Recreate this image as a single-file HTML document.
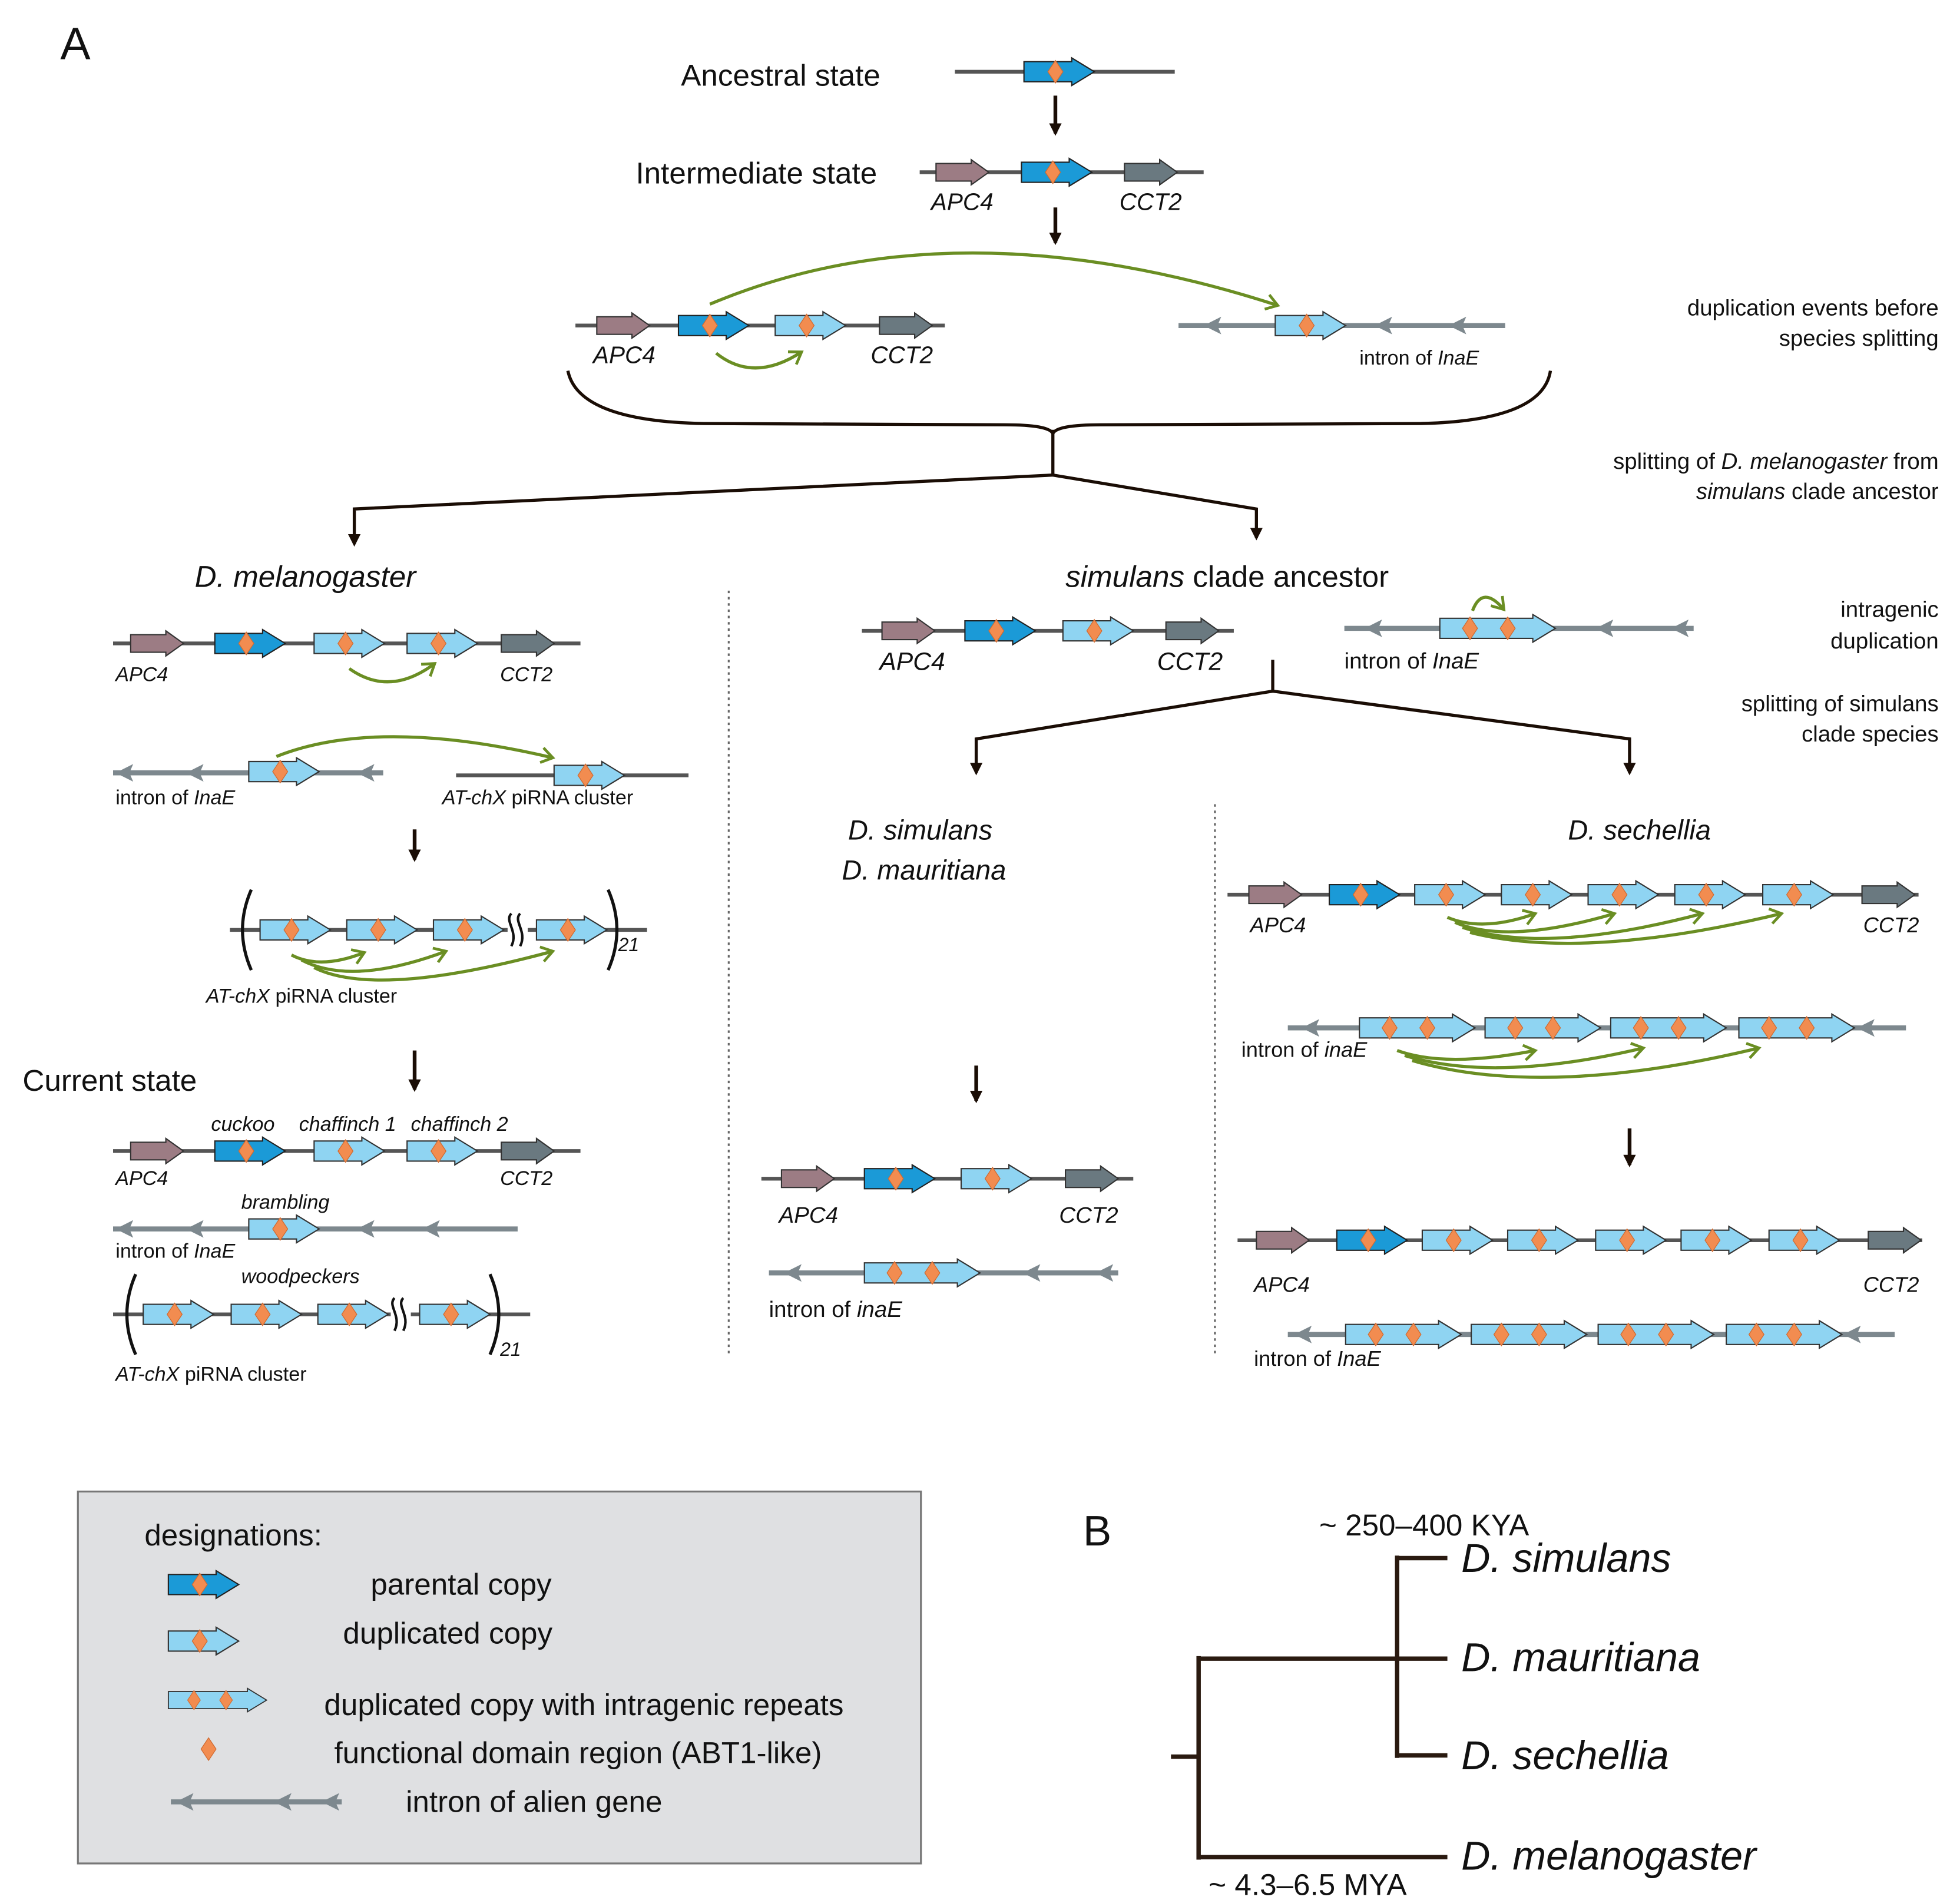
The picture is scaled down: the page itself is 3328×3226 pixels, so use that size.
<!DOCTYPE html>
<html><head><meta charset="utf-8"><style>
html,body{margin:0;padding:0;background:#fff}
svg{display:block}
text{font-family:"Liberation Sans",sans-serif;fill:#111}
.i{font-style:italic}
</style></head><body>
<svg width="3328" height="3226" viewBox="0 0 1560 1512" xmlns="http://www.w3.org/2000/svg">
<defs>
<g id="dm"><polygon points="0,-9 6,0 0,9 -6,0" fill="#f28c50" stroke="#d06a30" stroke-width="0.6"/></g>
<g id="par"><polygon points="0,-8 38,-8 38,-11 56,0 38,11 38,8 0,8" fill="#1b9ad7" stroke="#222" stroke-width="1"/><use href="#dm" x="25" y="0"/></g>
<g id="dup"><polygon points="0,-8 38,-8 38,-11 56,0 38,11 38,8 0,8" fill="#8fd4f2" stroke="#333" stroke-width="1"/><use href="#dm" x="25" y="0"/></g>
<g id="dup2"><polygon points="0,-8 74,-8 74,-11 92,0 74,11 74,8 0,8" fill="#8fd4f2" stroke="#333" stroke-width="1"/><use href="#dm" x="24" y="0"/><use href="#dm" x="54" y="0"/></g>
<g id="apc"><polygon points="0,-7 28,-7 28,-10 42,0 28,10 28,7 0,7" fill="#9c7c84" stroke="#333" stroke-width="1"/></g>
<g id="cct"><polygon points="0,-7 28,-7 28,-10 42,0 28,10 28,7 0,7" fill="#6a7980" stroke="#333" stroke-width="1"/></g>
<g id="ah"><polygon points="0,0 14,-7 11,0 14,7" fill="#7d888e"/></g>
<marker id="ka" markerWidth="10" markerHeight="10" refX="8" refY="5" orient="auto" markerUnits="userSpaceOnUse"><polygon points="0,0 10,5 0,10" fill="#1a0d05"/></marker>
<marker id="ga" markerWidth="14" markerHeight="14" refX="11" refY="7" orient="auto" markerUnits="userSpaceOnUse"><polyline points="2,1 11,7 2,13" fill="none" stroke="#6a8e23" stroke-width="2.2"/></marker>
</defs>

<text x="48" y="47" font-size="36">A</text>

<text x="542" y="68" font-size="24">Ancestral state</text>
<line x1="760" y1="57" x2="935" y2="57" stroke="#555" stroke-width="3"/>
<use href="#par" x="815" y="57"/>
<line x1="840" y1="76" x2="840" y2="106" stroke="#1a0d05" stroke-width="3" marker-end="url(#ka)"/>

<text x="506" y="146" font-size="24">Intermediate state</text>
<line x1="732" y1="137" x2="958" y2="137" stroke="#555" stroke-width="3"/>
<use href="#apc" x="745" y="137"/><use href="#par" x="813" y="137"/><use href="#cct" x="895" y="137"/>
<text x="741" y="167" font-size="19" class="i">APC4</text><text x="891" y="167" font-size="19" class="i">CCT2</text>
<line x1="840" y1="165" x2="840" y2="193" stroke="#1a0d05" stroke-width="3" marker-end="url(#ka)"/>

<line x1="458" y1="259" x2="752" y2="259" stroke="#555" stroke-width="3"/>
<use href="#apc" x="475" y="259"/><use href="#par" x="540" y="259"/><use href="#dup" x="617" y="259"/><use href="#cct" x="700" y="259"/>
<text x="472" y="289" font-size="19" class="i">APC4</text><text x="693" y="289" font-size="19" class="i">CCT2</text>
<path d="M570,281 Q600,305 638,280" fill="none" stroke="#6a8e23" stroke-width="2.5" marker-end="url(#ga)"/>
<path d="M565,242 Q760,160 1017,243" fill="none" stroke="#6a8e23" stroke-width="2.5" marker-end="url(#ga)"/>
<line x1="938" y1="259" x2="1198" y2="259" stroke="#7d888e" stroke-width="4"/>
<use href="#ah" x="958" y="259"/><use href="#ah" x="1094" y="259"/><use href="#ah" x="1153" y="259"/>
<use href="#dup" x="1015" y="259"/>
<text x="1082" y="290" font-size="16">intron of <tspan class="i">InaE</tspan></text>
<text x="1543" y="251" font-size="18" text-anchor="end">duplication events before</text>
<text x="1543" y="275" font-size="18" text-anchor="end">species splitting</text>

<path d="M452,295 Q460,335 560,337 L800,338 Q835,338 838,345 Q841,338 876,338 L1130,337 Q1228,335 1234,295" fill="none" stroke="#1a0d05" stroke-width="2.5"/>
<polyline points="838,342 838,378" fill="none" stroke="#1a0d05" stroke-width="2.5"/>
<polyline points="838,378 282,405 282,433" fill="none" stroke="#1a0d05" stroke-width="2.5" marker-end="url(#ka)"/>
<polyline points="838,378 1000,405 1000,428" fill="none" stroke="#1a0d05" stroke-width="2.5" marker-end="url(#ka)"/>
<text x="1543" y="373" font-size="18" text-anchor="end">splitting of <tspan class="i">D. melanogaster</tspan> from</text>
<text x="1543" y="397" font-size="18" text-anchor="end"><tspan class="i">simulans</tspan> clade ancestor</text>

<text x="155" y="467" font-size="24" class="i">D. melanogaster</text>
<line x1="580" y1="470" x2="580" y2="1078" stroke="#666" stroke-width="1.5" stroke-dasharray="2,3"/>
<line x1="90" y1="512" x2="462" y2="512" stroke="#555" stroke-width="3"/>
<use href="#apc" x="104" y="512"/><use href="#par" x="171" y="512"/><use href="#dup" x="250" y="512"/><use href="#dup" x="324" y="512"/><use href="#cct" x="399" y="512"/>
<text x="92" y="542" font-size="16" class="i">APC4</text><text x="398" y="542" font-size="16" class="i">CCT2</text>
<path d="M278,532 Q310,555 346,528" fill="none" stroke="#6a8e23" stroke-width="2.5" marker-end="url(#ga)"/>

<line x1="90" y1="615" x2="305" y2="615" stroke="#7d888e" stroke-width="4"/>
<use href="#ah" x="92" y="615"/><use href="#ah" x="148" y="615"/><use href="#ah" x="284" y="615"/>
<use href="#dup" x="198" y="614"/>
<text x="92" y="640" font-size="16">intron of <tspan class="i">InaE</tspan></text>
<line x1="363" y1="617" x2="548" y2="617" stroke="#555" stroke-width="3"/>
<use href="#dup" x="441" y="617"/>
<text x="352" y="640" font-size="16"><tspan class="i">AT-chX</tspan> piRNA cluster</text>
<path d="M220,602 Q300,570 440,603" fill="none" stroke="#6a8e23" stroke-width="2.5" marker-end="url(#ga)"/>
<line x1="330" y1="660" x2="330" y2="684" stroke="#1a0d05" stroke-width="3" marker-end="url(#ka)"/>

<line x1="183" y1="740" x2="515" y2="740" stroke="#555" stroke-width="3"/>
<use href="#dup" x="207" y="740"/><use href="#dup" x="276" y="740"/><use href="#dup" x="345" y="740"/><use href="#dup" x="427" y="740"/>
<rect x="404" y="728" width="16" height="24" fill="#fff"/>
<path d="M407,727 c-6,6 6,14 0,26 M414,727 c-6,6 6,14 0,26" fill="none" stroke="#111" stroke-width="2"/>
<path d="M200,708 Q186,740 200,772" fill="none" stroke="#111" stroke-width="2.5"/>
<path d="M484,708 Q498,740 484,772" fill="none" stroke="#111" stroke-width="2.5"/>
<text x="492" y="757" font-size="15" class="i">21</text>
<path d="M232,760 Q255,772 290,758" fill="none" stroke="#6a8e23" stroke-width="2.5" marker-end="url(#ga)"/>
<path d="M240,764 Q280,785 355,757" fill="none" stroke="#6a8e23" stroke-width="2.5" marker-end="url(#ga)"/>
<path d="M250,770 Q300,795 440,757" fill="none" stroke="#6a8e23" stroke-width="2.5" marker-end="url(#ga)"/>
<text x="164" y="798" font-size="16"><tspan class="i">AT-chX</tspan> piRNA cluster</text>

<text x="18" y="868" font-size="24">Current state</text>
<line x1="330" y1="836" x2="330" y2="867" stroke="#1a0d05" stroke-width="3" marker-end="url(#ka)"/>
<text x="168" y="900" font-size="16" class="i">cuckoo</text>
<text x="238" y="900" font-size="16" class="i">chaffinch 1</text>
<text x="327" y="900" font-size="16" class="i">chaffinch 2</text>
<line x1="90" y1="916" x2="462" y2="916" stroke="#555" stroke-width="3"/>
<use href="#apc" x="104" y="916"/><use href="#par" x="171" y="916"/><use href="#dup" x="250" y="916"/><use href="#dup" x="324" y="916"/><use href="#cct" x="399" y="916"/>
<text x="92" y="943" font-size="16" class="i">APC4</text><text x="398" y="943" font-size="16" class="i">CCT2</text>
<text x="192" y="962" font-size="16" class="i">brambling</text>
<line x1="90" y1="978" x2="412" y2="978" stroke="#7d888e" stroke-width="4"/>
<use href="#ah" x="92" y="978"/><use href="#ah" x="148" y="978"/><use href="#ah" x="284" y="978"/><use href="#ah" x="336" y="978"/>
<use href="#dup" x="198" y="978"/>
<text x="92" y="1001" font-size="16">intron of <tspan class="i">InaE</tspan></text>
<text x="192" y="1021" font-size="16" class="i">woodpeckers</text>
<line x1="90" y1="1046" x2="422" y2="1046" stroke="#555" stroke-width="3"/>
<use href="#dup" x="114" y="1046"/><use href="#dup" x="184" y="1046"/><use href="#dup" x="253" y="1046"/><use href="#dup" x="334" y="1046"/>
<rect x="311" y="1034" width="16" height="24" fill="#fff"/>
<path d="M314,1033 c-6,6 6,14 0,26 M321,1033 c-6,6 6,14 0,26" fill="none" stroke="#111" stroke-width="2"/>
<path d="M108,1014 Q94,1046 108,1078" fill="none" stroke="#111" stroke-width="2.5"/>
<path d="M390,1014 Q404,1046 390,1078" fill="none" stroke="#111" stroke-width="2.5"/>
<text x="398" y="1079" font-size="15" class="i">21</text>
<text x="92" y="1099" font-size="16"><tspan class="i">AT-chX</tspan> piRNA cluster</text>

<text x="848" y="467" font-size="24"><tspan class="i">simulans</tspan> clade ancestor</text>
<line x1="686" y1="502" x2="982" y2="502" stroke="#555" stroke-width="3"/>
<use href="#apc" x="702" y="502"/><use href="#par" x="768" y="502"/><use href="#dup" x="846" y="502"/><use href="#cct" x="928" y="502"/>
<text x="700" y="533" font-size="20" class="i">APC4</text><text x="921" y="533" font-size="20" class="i">CCT2</text>
<line x1="1070" y1="500" x2="1348" y2="500" stroke="#7d888e" stroke-width="4"/>
<use href="#ah" x="1086" y="500"/><use href="#ah" x="1270" y="500"/><use href="#ah" x="1330" y="500"/>
<use href="#dup2" x="1146" y="500"/>
<path d="M1172,486 Q1180,465 1197,485" fill="none" stroke="#6a8e23" stroke-width="2.5" marker-end="url(#ga)"/>
<text x="1070" y="532" font-size="18">intron of <tspan class="i">InaE</tspan></text>
<text x="1543" y="491" font-size="18" text-anchor="end">intragenic</text>
<text x="1543" y="516" font-size="18" text-anchor="end">duplication</text>
<text x="1543" y="566" font-size="18" text-anchor="end">splitting of  simulans</text>
<text x="1543" y="590" font-size="18" text-anchor="end">clade species</text>
<line x1="1013" y1="525" x2="1013" y2="550" stroke="#1a0d05" stroke-width="2.5"/>
<polyline points="1013,550 777,588 777,615" fill="none" stroke="#1a0d05" stroke-width="2.5" marker-end="url(#ka)"/>
<polyline points="1013,550 1297,588 1297,615" fill="none" stroke="#1a0d05" stroke-width="2.5" marker-end="url(#ka)"/>
<line x1="967" y1="640" x2="967" y2="1080" stroke="#666" stroke-width="1.5" stroke-dasharray="2,3"/>

<text x="675" y="668" font-size="22" class="i">D. simulans</text>
<text x="670" y="700" font-size="22" class="i">D. mauritiana</text>
<line x1="777" y1="848" x2="777" y2="876" stroke="#1a0d05" stroke-width="3" marker-end="url(#ka)"/>
<line x1="606" y1="938" x2="902" y2="938" stroke="#555" stroke-width="3"/>
<use href="#apc" x="622" y="938"/><use href="#par" x="688" y="938"/><use href="#dup" x="765" y="938"/><use href="#cct" x="848" y="938"/>
<text x="620" y="973" font-size="18" class="i">APC4</text><text x="843" y="973" font-size="18" class="i">CCT2</text>
<line x1="612" y1="1013" x2="890" y2="1013" stroke="#7d888e" stroke-width="4"/>
<use href="#ah" x="624" y="1013"/><use href="#ah" x="814" y="1013"/><use href="#ah" x="872" y="1013"/>
<use href="#dup2" x="688" y="1013"/>
<text x="612" y="1048" font-size="18">intron of <tspan class="i">inaE</tspan></text>

<text x="1248" y="668" font-size="22" class="i">D. sechellia</text>
<line x1="977" y1="712" x2="1527" y2="712" stroke="#555" stroke-width="3"/>
<use href="#apc" x="994" y="712"/><use href="#par" x="1058" y="712"/><use href="#dup" x="1126" y="712"/><use href="#dup" x="1195" y="712"/><use href="#dup" x="1264" y="712"/><use href="#dup" x="1333" y="712"/><use href="#dup" x="1403" y="712"/><use href="#cct" x="1482" y="712"/>
<text x="995" y="742" font-size="17" class="i">APC4</text><text x="1483" y="742" font-size="17" class="i">CCT2</text>
<path d="M1152,730 Q1180,742 1222,727" fill="none" stroke="#6a8e23" stroke-width="2.5" marker-end="url(#ga)"/>
<path d="M1158,734 Q1200,752 1285,727" fill="none" stroke="#6a8e23" stroke-width="2.5" marker-end="url(#ga)"/>
<path d="M1164,738 Q1230,760 1355,727" fill="none" stroke="#6a8e23" stroke-width="2.5" marker-end="url(#ga)"/>
<path d="M1170,742 Q1260,765 1418,727" fill="none" stroke="#6a8e23" stroke-width="2.5" marker-end="url(#ga)"/>
<line x1="1025" y1="818" x2="1517" y2="818" stroke="#7d888e" stroke-width="4"/>
<use href="#ah" x="1036" y="818"/><use href="#ah" x="1478" y="818"/>
<use href="#dup2" x="1082" y="818"/><use href="#dup2" x="1182" y="818"/><use href="#dup2" x="1282" y="818"/><use href="#dup2" x="1384" y="818"/>
<text x="988" y="841" font-size="17">intron of <tspan class="i">inaE</tspan></text>
<path d="M1112,836 Q1150,850 1222,836" fill="none" stroke="#6a8e23" stroke-width="2.5" marker-end="url(#ga)"/>
<path d="M1118,840 Q1190,862 1308,834" fill="none" stroke="#6a8e23" stroke-width="2.5" marker-end="url(#ga)"/>
<path d="M1124,844 Q1230,875 1400,834" fill="none" stroke="#6a8e23" stroke-width="2.5" marker-end="url(#ga)"/>
<line x1="1297" y1="898" x2="1297" y2="927" stroke="#1a0d05" stroke-width="3" marker-end="url(#ka)"/>
<line x1="985" y1="987" x2="1530" y2="987" stroke="#555" stroke-width="3"/>
<use href="#apc" x="1000" y="987"/><use href="#par" x="1064" y="987"/><use href="#dup" x="1132" y="987"/><use href="#dup" x="1200" y="987"/><use href="#dup" x="1270" y="987"/><use href="#dup" x="1338" y="987"/><use href="#dup" x="1408" y="987"/><use href="#cct" x="1487" y="987"/>
<text x="998" y="1028" font-size="17" class="i">APC4</text><text x="1483" y="1028" font-size="17" class="i">CCT2</text>
<line x1="1025" y1="1062" x2="1508" y2="1062" stroke="#7d888e" stroke-width="4"/>
<use href="#ah" x="1030" y="1062"/><use href="#ah" x="1467" y="1062"/>
<use href="#dup2" x="1071" y="1062"/><use href="#dup2" x="1171" y="1062"/><use href="#dup2" x="1272" y="1062"/><use href="#dup2" x="1374" y="1062"/>
<text x="998" y="1087" font-size="17">intron of <tspan class="i">InaE</tspan></text>

<rect x="62" y="1187" width="671" height="296" fill="#dfe0e2" stroke="#777" stroke-width="1.5"/>
<text x="115" y="1230" font-size="24">designations:</text>
<use href="#par" x="134" y="1261"/>
<text x="295" y="1269" font-size="24">parental copy</text>
<use href="#dup" x="134" y="1306"/>
<text x="273" y="1308" font-size="24">duplicated copy</text>
<use href="#dup2" x="134" y="1353" transform="translate(134,1353) scale(0.85) translate(-134,-1353)"/>
<text x="258" y="1365" font-size="24">duplicated copy with intragenic repeats</text>
<use href="#dm" x="166" y="1392"/>
<text x="266" y="1403" font-size="24">functional domain region (ABT1-like)</text>
<line x1="136" y1="1434" x2="272" y2="1434" stroke="#7d888e" stroke-width="4"/>
<use href="#ah" x="140" y="1434"/><use href="#ah" x="218" y="1434"/><use href="#ah" x="256" y="1434"/>
<text x="323" y="1442" font-size="24">intron of alien gene</text>

<text x="862" y="1230" font-size="34">B</text>
<text x="1050" y="1222" font-size="24">~ 250–400 KYA</text>
<g fill="none" stroke="#2a1a10" stroke-width="3.5">
<line x1="932" y1="1398" x2="954" y2="1398"/>
<line x1="954" y1="1318" x2="954" y2="1480"/>
<line x1="954" y1="1320" x2="1152" y2="1320"/>
<line x1="954" y1="1478" x2="1152" y2="1478"/>
<line x1="1112" y1="1238" x2="1112" y2="1399"/>
<line x1="1112" y1="1240" x2="1152" y2="1240"/>
<line x1="1112" y1="1397" x2="1152" y2="1397"/>
</g>
<text x="1163" y="1251" font-size="32" class="i">D. simulans</text>
<text x="1163" y="1330" font-size="32" class="i">D. mauritiana</text>
<text x="1163" y="1408" font-size="32" class="i">D. sechellia</text>
<text x="1163" y="1488" font-size="32" class="i">D. melanogaster</text>
<text x="962" y="1508" font-size="24">~ 4.3–6.5 MYA</text>
</svg>
</body></html>
